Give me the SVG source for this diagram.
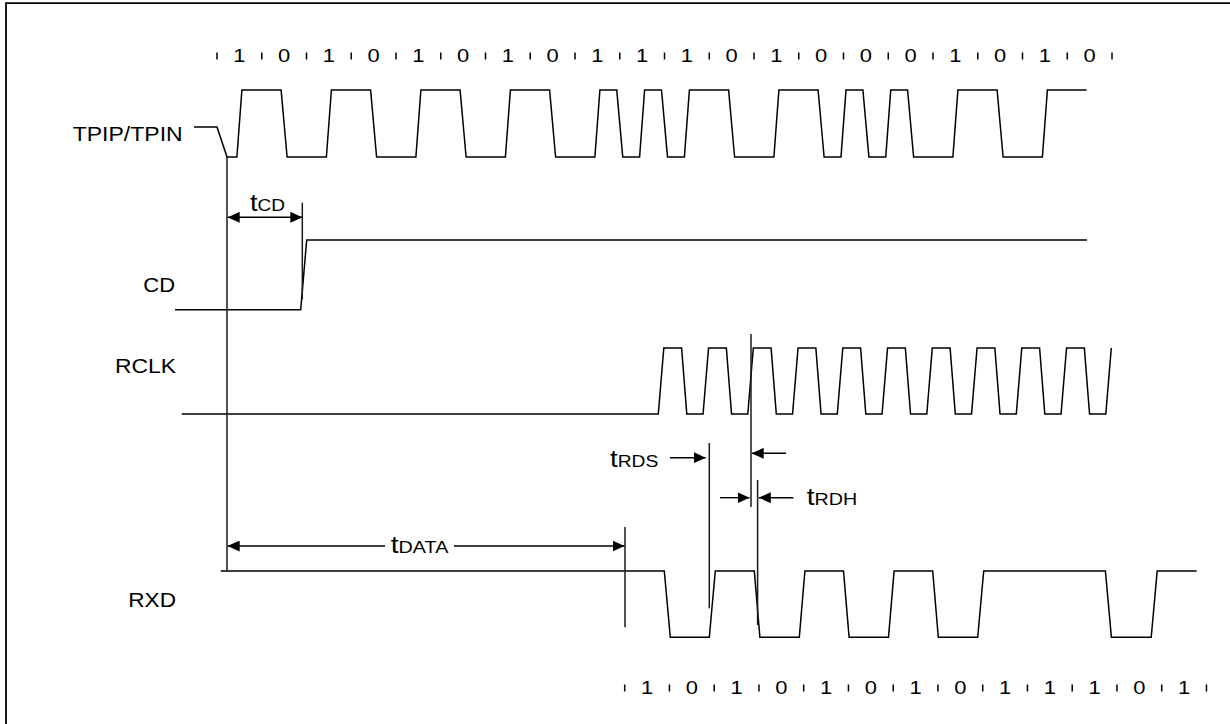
<svg xmlns="http://www.w3.org/2000/svg" width="1230" height="724" viewBox="0 0 1230 724">
<style>
text{font-family:"Liberation Sans",Arial,Helvetica,sans-serif;fill:#000}
.lbl{font-size:21px}
.dig{font-size:18px;text-anchor:middle}
.big{font-size:23px}
.sub{font-size:16px}
.w{fill:none;stroke:#000;stroke-width:1.5;stroke-linejoin:miter}
.ref{fill:none;stroke:#1a1a1a;stroke-width:1.5}
.tick{stroke:#000;stroke-width:1.5}
.arr{fill:none;stroke:#000;stroke-width:1.4}
</style>
<defs>
<marker id="ah" viewBox="0 0 12 11" markerWidth="12" markerHeight="11" refX="12" refY="5.5" orient="auto-start-reverse" markerUnits="userSpaceOnUse">
<path d="M0,0 L12,5.5 L0,11 z" fill="#000"/>
</marker>
</defs>
<rect width="1230" height="724" fill="#fff"/>
<path d="M6,740 V3.2 H1240" fill="none" stroke="#000" stroke-width="1.8"/>

<g id="bits-top">
<path class="tick" d="M217,52.5V59.5M261.75,52.5V59.5M306.5,52.5V59.5M351.25,52.5V59.5M396,52.5V59.5M440.75,52.5V59.5M485.5,52.5V59.5M530.25,52.5V59.5M575,52.5V59.5M619.75,52.5V59.5M664.5,52.5V59.5M709.25,52.5V59.5M754,52.5V59.5M798.75,52.5V59.5M843.5,52.5V59.5M888.25,52.5V59.5M933,52.5V59.5M977.75,52.5V59.5M1022.5,52.5V59.5M1067.25,52.5V59.5M1112,52.5V59.5"/>
<text class="dig" transform="scale(1.22,1)" y="62.5" x="196.21 232.89 269.57 306.25 342.93 379.61 416.29 452.97 489.65 526.33 563.01 599.69 636.37 673.05 709.73 746.41 783.09 819.77 856.45 893.13">10101010111010001010</text>
</g>

<g id="tpip">
<text class="lbl" x="72.7" y="141" textLength="110" lengthAdjust="spacingAndGlyphs">TPIP/TPIN</text>
<path class="w" d="M194,127 H217 L227,157 H236.9 L241.9,90 H281.1 L287.1,157 H326.4 L331.4,90 H370.6 L376.6,157 H415.9 L420.9,90 H460.1 L466.1,157 H505.4 L510.4,90 H549.6 L555.6,157 H594.9 L599.9,90 H616.75 L622.75,157 H639.6 L644.6,90 H661.5 L667.5,157 H684.4 L689.4,90 H728.6 L734.6,157 H773.9 L778.9,90 H818.1 L824.1,157 H841 L846,90 H862.9 L868.9,157 H885.75 L890.75,90 H907.6 L913.6,157 H952.9 L957.9,90 H997.1 L1003.1,157 H1042.4 L1047.4,90 H1086.6"/>
</g>

<g id="cd">
<text class="lbl" x="143.3" y="291.7" textLength="31.7" lengthAdjust="spacingAndGlyphs">CD</text>
<path class="w" d="M175,309.7 H300.7 L306.7,240 H1087"/>
</g>

<g id="rclk">
<text class="lbl" x="115" y="373.3" textLength="61" lengthAdjust="spacingAndGlyphs">RCLK</text>
<path class="w" d="M181.7,414 H658.3 L663.8,348 H681.6 L686.8,414 H703.05 L708.55,348 H726.35 L731.55,414 H747.8 L753.3,348 H771.1 L776.3,414 H792.55 L798.05,348 H815.85 L821.05,414 H837.3 L842.8,348 H860.6 L865.8,414 H882.05 L887.55,348 H905.35 L910.55,414 H926.8 L932.3,348 H950.1 L955.3,414 H971.55 L977.05,348 H994.85 L1000.05,414 H1016.3 L1021.8,348 H1039.6 L1044.8,414 H1061.05 L1066.55,348 H1084.35 L1089.55,414 H1105.8 L1111.3,348"/>
</g>

<g id="rxd">
<text class="lbl" x="128.3" y="606.7" textLength="47.7" lengthAdjust="spacingAndGlyphs">RXD</text>
<path class="w" d="M220.7,571 H664.3 L670.3,637.3 H709.3 L715.3,571 H754.3 L759.9,637.3 H799.3 L804.9,571 H843.5 L849.1,637.3 H888.5 L894.1,571 H932.7 L938.3,637.3 H977.7 L983.7,571 H1105.4 L1111.4,637.3 H1151.2 L1157.2,571 H1196.6"/>
</g>

<g id="bits-bottom">
<path class="tick" d="M624.7,684.5V691.5M669.45,684.5V691.5M714.2,684.5V691.5M758.95,684.5V691.5M803.7,684.5V691.5M848.45,684.5V691.5M893.2,684.5V691.5M937.95,684.5V691.5M982.7,684.5V691.5M1027.45,684.5V691.5M1072.2,684.5V691.5M1116.95,684.5V691.5M1161.7,684.5V691.5M1206.45,684.5V691.5"/>
<text class="dig" transform="scale(1.22,1)" y="694" x="530.39 567.07 603.75 640.43 677.11 713.79 750.47 787.15 823.83 860.51 897.19 933.87 970.55">1010101011101</text>
</g>

<g id="connectors">
<path class="ref" d="M227,157 V571"/>
<path class="ref" d="M302.3,202.7 V299.3"/>
<path class="ref" d="M625,527 V627.3"/>
<path class="ref" d="M751,334 V507"/>
<path class="ref" d="M709.3,443 V608.3"/>
<path class="ref" d="M757.6,480 V625"/>

<line class="arr" x1="227.7" y1="217.3" x2="302.3" y2="217.3" marker-start="url(#ah)" marker-end="url(#ah)"/>
<line class="arr" x1="385" y1="546" x2="227.7" y2="546" marker-end="url(#ah)"/>
<line class="arr" x1="454" y1="546" x2="624.5" y2="546" marker-end="url(#ah)"/>
<line class="arr" x1="670" y1="457.7" x2="705.7" y2="457.7" marker-end="url(#ah)"/>
<line class="arr" x1="786" y1="453.3" x2="751.7" y2="453.3" marker-end="url(#ah)"/>
<line class="arr" x1="720" y1="497.7" x2="749.5" y2="497.7" marker-end="url(#ah)"/>
<line class="arr" x1="793.3" y1="497.7" x2="758.8" y2="497.7" marker-end="url(#ah)"/>
</g>

<g id="timing-labels">
<text x="250" y="210.7" textLength="35" lengthAdjust="spacingAndGlyphs"><tspan class="big">t</tspan><tspan class="sub">CD</tspan></text>
<text x="390.7" y="553.3" textLength="57.6" lengthAdjust="spacingAndGlyphs"><tspan class="big">t</tspan><tspan class="sub">DATA</tspan></text>
<text x="610" y="467.3" textLength="48.3" lengthAdjust="spacingAndGlyphs"><tspan class="big">t</tspan><tspan class="sub">RDS</tspan></text>
<text x="806.7" y="505" textLength="50.5" lengthAdjust="spacingAndGlyphs"><tspan class="big">t</tspan><tspan class="sub">RDH</tspan></text>
</g>
</svg>
